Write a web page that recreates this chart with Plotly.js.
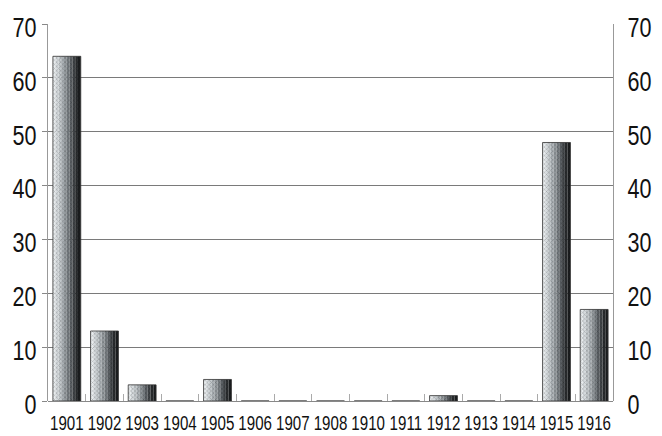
<!DOCTYPE html>
<html><head><meta charset="utf-8">
<script src="https://cdn.plot.ly/plotly-3.0.1.min.js"></script>
<style>html,body{margin:0;padding:0;background:#fff}#c{width:662px;height:436px}</style>
</head><body><div id="c"></div>
<script>
const years = ["1901","1902","1903","1904","1905","1906","1907","1908","1910","1911","1912","1913","1914","1915","1916"];
const counts = [64, 13, 3, 0, 4, 0, 0, 0, 0, 0, 1, 0, 0, 48, 17];
const yTicks = [0,10,20,30,40,50,60,70];

const shades = ["#e8ecee","#d6dbde","#c2c8cb","#abb1b5","#92989c","#777d81","#5b6064","#404447","#2a2d2f","#1c1e20"];
const N = shades.length;
const fullW = 0.74;
const traces = shades.map((c,i)=>({
  type:'bar', x:years, y:counts,
  width: fullW/N, offset: -fullW/2 + i*fullW/N,
  marker:{color:c, line:{width:0},
    pattern:{shape:'x', size:3, solidity:0.3, fillmode:'overlay', fgcolor:'#000', fgopacity:0.3}},
  hoverinfo:'skip', showlegend:false
}));
traces.push({type:'bar', x:years, y:counts, width:fullW, offset:-fullW/2,
  marker:{color:'rgba(0,0,0,0)', line:{width:0.8,color:'#333'}}, hoverinfo:'skip', showlegend:false});
traces.push({type:'scatter', x:[years[0]], y:[0], yaxis:'y2', mode:'markers', marker:{opacity:0}, hoverinfo:'skip', showlegend:false});

const fnt = "'Liberation Sans',Arial,sans-serif";
const layout = {
  width:662, height:436,
  margin:{l:48, r:49, t:24, b:35},
  paper_bgcolor:'#fff', plot_bgcolor:'#fff',
  barmode:'overlay', bargap:0.2,
  xaxis:{type:'category', categoryorder:'array', categoryarray:years, tickangle:0,
    range:[-0.5, years.length-0.5], autorange:false,
    showgrid:false, zeroline:false, showline:false,
    ticks:'inside', tickson:'boundaries', ticklen:7, tickcolor:'#aaa', tickwidth:1,
    tickfont:{family:fnt, size:21, color:'#111'}},
  yaxis:{range:[0,70], tickvals:yTicks, showgrid:true, gridcolor:'#7a7a7a', gridwidth:1,
    zeroline:true, zerolinecolor:'#888', showline:true, linecolor:'#999', linewidth:1,
    ticks:'outside', ticklen:5, tickcolor:'#888',
    tickfont:{family:fnt, size:28, color:'#111'}},
  yaxis2:{range:[0,70], tickvals:yTicks, overlaying:'y', side:'right', showgrid:false,
    zeroline:false, showline:true, linecolor:'#999', linewidth:1, ticks:'',
    tickfont:{family:fnt, size:28, color:'#111'}}
};

function squeeze(sel, sx, dx, dy) {
  document.querySelectorAll(sel).forEach(t => {
    const bb = t.getBBox();
    const anchor = t.getAttribute('text-anchor');
    const ax = anchor === 'end' ? bb.x + bb.width : anchor === 'start' ? bb.x : bb.x + bb.width / 2;
    const prev = t.getAttribute('transform') || '';
    t.setAttribute('transform', prev + ` translate(${ax + dx},${dy}) scale(${sx},1) translate(${-ax},0)`);
  });
}

Plotly.newPlot('c', traces, layout, {staticPlot:true}).then(() => {
  squeeze('.xtick text', 0.72, 0, 7);
  squeeze('.ytick text', 0.77, 0, 3);
  squeeze('.y2tick text', 0.77, 8, 3);
});
</script></body></html>
